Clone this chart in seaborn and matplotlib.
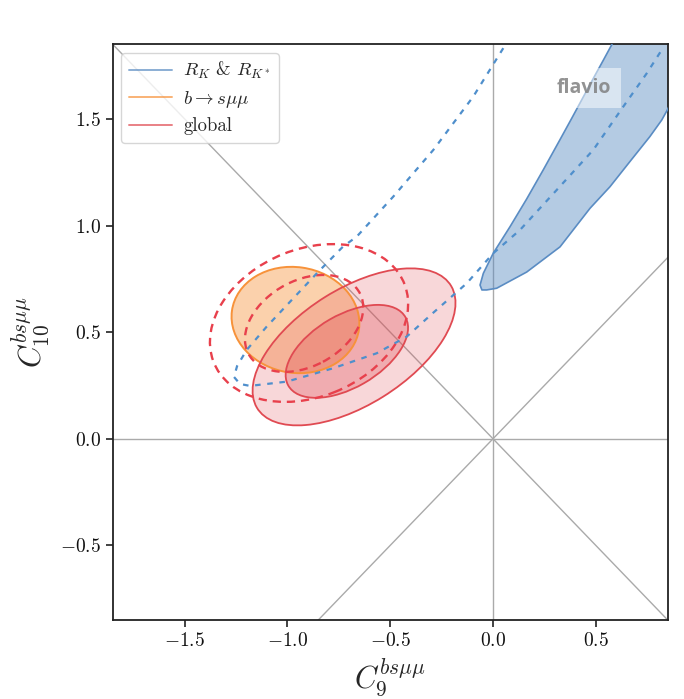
import numpy as np
import pandas as pd
import seaborn as sns
import matplotlib.pyplot as plt
from matplotlib.patches import Ellipse, Polygon
from matplotlib.lines import Line2D

# axis ranges and ticks
x_lim = (-1.85, 0.85)
y_lim = (-0.85, 1.85)
x_ticks = [-1.5, -1.0, -0.5, 0.0, 0.5]
y_ticks = [-0.5, 0.0, 0.5, 1.0, 1.5]

# ellipse contours: centre x, centre y, full width, full height, angle (deg)
bsmumu_1s = (-0.961, 0.557, 0.624, 0.496, -8)
global_1s = (-0.711, 0.410, 0.654, 0.342, 29)
global_2s = (-0.676, 0.431, 1.104, 0.546, 31)
alt_1s = (-0.919, 0.541, 0.612, 0.404, 27)
alt_2s = (-0.895, 0.543, 0.998, 0.694, 21)

# R_K & R_K* 1 sigma band (outline)
rk_band_x = [0.63, 0.577, 0.537, 0.488, 0.383, 0.326, 0.245, 0.164, 0.083, 0.001, -0.047,
             -0.063, -0.054, -0.031, 0.018, 0.164, 0.326, 0.472, 0.569, 0.666, 0.763,
             0.821, 0.848, 0.90, 0.95]
rk_band_y = [1.94, 1.847, 1.776, 1.690, 1.503, 1.403, 1.262, 1.125, 0.995, 0.870, 0.776,
             0.721, 0.698, 0.698, 0.706, 0.782, 0.900, 1.081, 1.182, 1.300, 1.417,
             1.495, 1.542, 1.65, 1.95]

# R_K & R_K* dashed contour
rk_dash_x = [0.050, -0.096, -0.290, -0.485, -0.663, -0.730, -0.857, -0.987, -1.101,
             -1.198, -1.245, -1.260, -1.231, -1.182, -1.003, -0.777, -0.566, -0.420,
             -0.292, -0.128, 0.001, 0.131, 0.310, 0.488, 0.634, 0.748, 0.821]
rk_dash_y = [1.832, 1.605, 1.355, 1.136, 0.948, 0.901, 0.776, 0.643, 0.526,
             0.417, 0.341, 0.290, 0.257, 0.248, 0.268, 0.331, 0.401, 0.479,
             0.590, 0.729, 0.870, 0.979, 1.167, 1.355, 1.558, 1.714, 1.824]

legend_labels = [r"$R_K$ & $R_{K^*}$", r"$b\to s\mu\mu$", "global"]

blue = "#5a8cc3"
orange = "#f7923a"
red = "#e04a52"

sns.set_style("ticks")
plt.rcParams["font.family"] = "serif"
plt.rcParams["font.serif"] = ["cmr10", "DejaVu Serif"]
plt.rcParams["mathtext.fontset"] = "cm"
plt.rcParams["axes.formatter.use_mathtext"] = True

fig = plt.figure(figsize = (6.84, 6.99), dpi = 100)
ax = fig.add_axes([0.1648, 0.1130, 0.8114, 0.8236])

# reference lines
line_kw = dict(color = "#aaaaaa", lw = 1.0, zorder = 1)
ax.axhline(0, **line_kw)
ax.axvline(0, **line_kw)
ax.axline((0, 0), slope = 1, **line_kw)
ax.axline((0, 0), slope = -1, **line_kw)

# R_K band
band_xy = np.column_stack([rk_band_x, rk_band_y])
ax.add_patch(Polygon(band_xy, closed = True, facecolor = blue, alpha = 0.45,
                     edgecolor = "none", zorder = 2))
ax.add_patch(Polygon(band_xy, closed = True, facecolor = "none", edgecolor = blue,
                     lw = 1.2, joinstyle = "round", zorder = 3))

# b -> s mu mu
cx, cy, w, h, a = bsmumu_1s
ax.add_patch(Ellipse((cx, cy), w, h, angle = a, facecolor = orange, alpha = 0.42,
                     edgecolor = "none", zorder = 2))
ax.add_patch(Ellipse((cx, cy), w, h, angle = a, facecolor = "none",
                     edgecolor = orange, lw = 1.4, zorder = 3))

# global fit
for ell, alpha in [(global_2s, 0.22), (global_1s, 0.3)]:
    cx, cy, w, h, a = ell
    ax.add_patch(Ellipse((cx, cy), w, h, angle = a, facecolor = red, alpha = alpha,
                         edgecolor = "none", zorder = 2))
    ax.add_patch(Ellipse((cx, cy), w, h, angle = a, facecolor = "none",
                         edgecolor = red, lw = 1.3, zorder = 3))

# dashed contours
for ell in [alt_1s, alt_2s]:
    cx, cy, w, h, a = ell
    ax.add_patch(Ellipse((cx, cy), w, h, angle = a, facecolor = "none", edgecolor = "#e8404c",
                         lw = 1.7, linestyle = (0, (3.5, 2.5)), zorder = 4))

dash_df = pd.DataFrame({"C9": rk_dash_x, "C10": rk_dash_y})
sns.lineplot(data = dash_df, x = "C9", y = "C10", sort = False, estimator = None, ax = ax,
             color = "#4f8fcc", lw = 1.6, linestyle = (0, (2.5, 3)), zorder = 4)

ax.set_xlim(x_lim)
ax.set_ylim(y_lim)
ax.set_xticks(x_ticks)
ax.set_yticks(y_ticks)
ax.tick_params(labelsize = 14, length = 5, width = 1.2, color = "#222222", labelcolor = "#111111")
for sp in ax.spines.values():
    sp.set_linewidth(1.3)
    sp.set_color("#222222")
ax.set_xlabel(r"$C_9^{bs\mu\mu}$", fontsize = 22, labelpad = 5)
ax.set_ylabel(r"$C_{10}^{bs\mu\mu}$", fontsize = 22, labelpad = 6)

handles = [Line2D([], [], color = c, lw = 1.4, alpha = 0.7) for c in [blue, orange, red]]
ax.legend(handles, legend_labels, loc = "upper left", fontsize = 13.5, frameon = True,
          handlelength = 2.3, handletextpad = 0.6, labelspacing = 0.4, borderaxespad = 0.45)

ax.text(0.849, 0.924, "flavio", transform = ax.transAxes, ha = "center", va = "center",
        fontsize = 14, fontweight = "bold", family = "Open Sans", color = "#808080", alpha = 0.85,
        bbox = dict(facecolor = "white", alpha = 0.5, edgecolor = "none", pad = 7), zorder = 6)

fig.savefig("out.png", dpi = 100)
